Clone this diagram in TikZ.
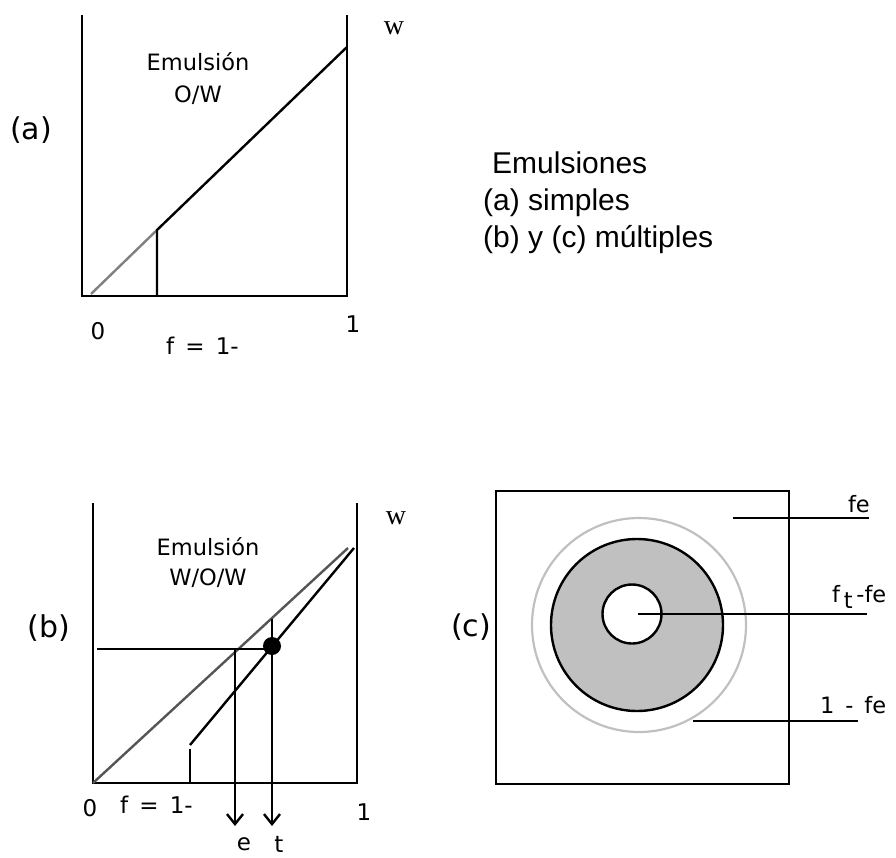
\documentclass[tikz,border=0pt]{standalone}
\usepackage{fontspec}
\setmainfont{DejaVu Sans}
\newfontfamily\arialfont{Liberation Sans}
\newfontfamily\seriffont{Liberation Serif}
\usetikzlibrary{arrows.meta}
\definecolor{midgray}{RGB}{128,128,128}
\definecolor{darkgray}{RGB}{85,85,85}
\definecolor{lightgray}{RGB}{192,192,192}
\tikzset{
  ln/.style={line width=2.4pt, line cap=butt},
  glab/.style={inner sep=0pt, font=\fontsize{22.5}{27}\selectfont},
  tlab/.style={inner sep=0pt, font=\fontsize{23}{27}\selectfont},
  plab/.style={inner sep=0pt, font=\fontsize{30}{34}\selectfont},
  wlab/.style={inner sep=0pt, font=\seriffont\fontsize{28}{30}\selectfont},
  blk/.style={inner sep=0pt, anchor=base west, font=\arialfont\fontsize{30}{36}\selectfont},
  arr/.style={ln, -{Straight Barb[length=10pt,width=16pt,line width=2.4pt]}},
}
\begin{document}
\begin{tikzpicture}[x=1pt,y=-1pt]
\useasboundingbox (0,0) rectangle (896,857);
% ---------- panel (a)
\coordinate (a1) at (82,15);
\coordinate (a2) at (82,296);
\coordinate (a3) at (347,296);
\coordinate (a4) at (347,15);
\coordinate (ag0) at (91,294);
\coordinate (ak) at (157,230);
\coordinate (akb) at (157,296);
\coordinate (aend) at (347,47);
\draw[ln, line join=miter] (a1) -- (a2) -- (a3) -- (a4);
\draw[ln, midgray] (ag0) -- (ak);
\draw[ln] (akb) -- (ak) -- (aend);
\node[glab] (aem) at (198,62) {Emulsión};
\node[glab] (aow) at (198,95) {O/W};
\node[plab] (alab) at (31,130) {(a)};
\node[wlab] (aw) at (394,28) {w};
\node[tlab] (a0) at (98,331) {0};
\node[tlab] (a1l) at (353,324) {1};
\node[tlab, anchor=west] (af) at (166,346) {f\, =\, 1-};
% ---------- text block
\node[blk] (t1) at (492,173) {Emulsiones};
\node[blk] (t2) at (483,210) {(a) simples};
\node[blk] (t3) at (483,247) {(b) y (c) múltiples};
% ---------- panel (b)
\coordinate (b1) at (93,503);
\coordinate (b2) at (93,783);
\coordinate (b3) at (357,783);
\coordinate (b4) at (357,503);
\coordinate (bg1) at (348,548);
\coordinate (bk0) at (190,745);
\coordinate (bkb) at (190,783);
\coordinate (bkt) at (190,749);
\coordinate (bk1) at (354,548);
\coordinate (bh0) at (97,649);
\coordinate (bh1) at (272,649);
\coordinate (be0) at (235,649);
\coordinate (be1) at (235,826);
\coordinate (bt0) at (272,619);
\coordinate (bt1) at (272,826);
\draw[ln, line join=miter] (b1) -- (b2) -- (b3) -- (b4);
\draw[ln, darkgray] (b2) -- (bg1);
\draw[ln] (bk0) -- (bk1);
\draw[ln] (bkb) -- (bkt);
\draw[ln] (bh0) -- (bh1);
\draw[arr] (be0) -- (be1);
\draw[arr] (bt0) -- (bt1);
\node[circle, fill=black, minimum size=18pt, inner sep=0pt] (dot) at (272,646) {};
\node[glab] (bem) at (208,547) {Emulsión};
\node[glab] (bwow) at (208,578) {W/O/W};
\node[plab] (blab) at (49,628) {(b)};
\node[wlab] (bw) at (396,518) {w};
\node[tlab] (b0) at (90,808) {0};
\node[tlab, anchor=west] (bf) at (120,805) {f\, =\, 1-};
\node[tlab] (b1l) at (364,812) {1};
\node[tlab] (be) at (244,844) {e};
\node[tlab] (bt) at (279,844) {t};
% ---------- panel (c)
\node[ln, draw, minimum width=293pt, minimum height=293pt, inner sep=0pt] (sq) at (642.5,637.5) {};
\node[circle, draw=lightgray, line width=2.2pt, minimum size=214pt, inner sep=0pt] (cout) at (639,625) {};
\node[circle, draw=black, fill=lightgray, line width=2.4pt, minimum size=172pt, inner sep=0pt] (cmid) at (637,625) {};
\node[circle, draw=black, fill=white, line width=2.4pt, minimum size=59pt, inner sep=0pt] (cin) at (632,614) {};
\coordinate (c0) at (638,614);
\coordinate (c1) at (867,614);
\coordinate (ct0) at (733,518);
\coordinate (ct1) at (869,518);
\coordinate (cb0) at (693,721);
\coordinate (cb1) at (858,721);
\draw[ln] (c0) -- (c1);
\draw[ln] (ct0) -- (ct1);
\draw[ln] (cb0) -- (cb1);
\node[plab] (clab) at (471,627) {(c)};
\node[glab, anchor=base east] (cfe) at (870,512) {fe};
\node[glab, anchor=base west] (cft) at (832,602) {f\,\raisebox{-6pt}{t}\,-fe};
\node[glab, anchor=base west] (c1fe) at (820,713) {1\, -\, fe};
\end{tikzpicture}
\end{document}
